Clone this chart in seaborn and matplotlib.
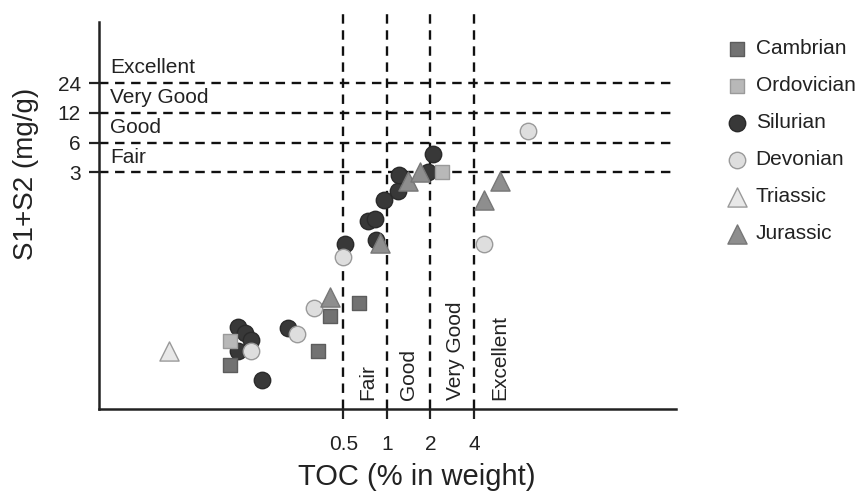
import numpy as np
import pandas as pd
import matplotlib
matplotlib.use("Agg")
import matplotlib.pyplot as plt
import seaborn as sns

# ---- data (TOC %, S1+S2 mg/g) ----
cambrian_toc = [0.082, 0.333, 0.405, 0.646]
cambrian_s = [0.034, 0.047, 0.107, 0.143]
ordovician_toc = [0.082, 2.4]
ordovician_s = [0.060, 3.0]
silurian_toc = [0.094, 0.104, 0.115, 0.094, 0.137, 0.206, 0.514, 0.84, 0.745, 0.83, 0.958, 1.2, 1.22, 1.91, 2.08]
silurian_s = [0.083, 0.071, 0.061, 0.0475, 0.024, 0.081, 0.565, 0.62, 0.97, 1.02, 1.58, 1.97, 2.83, 3.05, 4.6]
devonian_toc = [0.115, 0.238, 0.314, 0.5, 4.72, 9.4]
devonian_s = [0.0475, 0.070, 0.127, 0.42, 0.565, 7.9]
triassic_toc = [0.031]
triassic_s = [0.0475]
jurassic_toc = [0.405, 0.9, 1.39, 1.7, 4.66, 6.1]
jurassic_s = [0.167, 0.58, 2.48, 3.0, 1.58, 2.48]

toc_limits = [0.5, 1, 2, 4]
toc_labels = ["0.5", "1", "2", "4"]
toc_classes = ["Fair", "Good", "Very Good", "Excellent"]
s_limits = [3, 6, 12, 24]
s_labels = ["3", "6", "12", "24"]
s_classes = ["Fair", "Good", "Very Good", "Excellent"]

legend_order = ["Cambrian", "Ordovician", "Silurian", "Devonian", "Triassic", "Jurassic"]

sns.set_style("ticks")
plt.rcParams["font.family"] = ["Liberation Sans", "DejaVu Sans"]
txt = "#222222"

fig = plt.figure(figsize=(8.59, 4.94), dpi=100)
ax = fig.add_axes([99/859, 1-409/494, (676-99)/859, (409-8)/494])
ax.set_xscale("log")
ax.set_yscale("log")
ax.set_xlim(0.0102, 100)
ax.set_ylim(0.0122, 138)

groups = {
    "Silurian": (silurian_toc, silurian_s, "o", 140, "#383838", "#2a2a2a"),
    "Cambrian": (cambrian_toc, cambrian_s, "s", 110, "#727272", "#5c5c5c"),
    "Ordovician": (ordovician_toc, ordovician_s, "s", 110, "#b8b8b8", "#9a9a9a"),
    "Devonian": (devonian_toc, devonian_s, "o", 140, "#dedede", "#9a9a9a"),
    "Triassic": (triassic_toc, triassic_s, "^", 190, "#e8e8e8", "#9a9a9a"),
    "Jurassic": (jurassic_toc, jurassic_s, "^", 190, "#8e8e8e", "#777777"),
}
for name, (xv, yv, mk, sz, fc, ec) in groups.items():
    df = pd.DataFrame({"TOC": xv, "S": yv})
    sns.scatterplot(data=df, x="TOC", y="S", marker=mk, s=sz, color=fc,
                    edgecolor=ec, linewidth=1.0, ax=ax, zorder=3, label=name, legend=False)
h, l = ax.get_legend_handles_labels()
hd = dict(zip(l, h))

dash = (0, (4.0, 2.8))
for v in toc_limits:
    ax.axvline(v, color="#111111", lw=1.7, ls=dash, zorder=1)
for v in s_limits:
    ax.axhline(v, color="#111111", lw=1.7, ls=dash, zorder=1)

# zone labels
for v, t in zip(s_limits, s_classes):
    ax.text(0.0122, v * 1.26, t, fontsize=15, color=txt, ha="left", va="baseline")
vx = [0.742, 1.40, 2.97, 6.07]
for x, t in zip(vx, toc_classes):
    ax.text(x, 0.0151, t, fontsize=15, color=txt, rotation=90, ha="center", va="bottom")

ax.set_xticks(toc_limits)
ax.set_xticklabels(toc_labels)
ax.set_yticks(s_limits)
ax.set_yticklabels(s_labels)
ax.minorticks_off()
ax.tick_params(axis="both", direction="out", length=7, width=1.6, color="#222222",
               labelsize=15, labelcolor=txt)
ax.tick_params(axis="x", pad=12)
ax.tick_params(axis="y", pad=6)

for sp in ["top", "right"]:
    ax.spines[sp].set_visible(False)
for sp in ["left", "bottom"]:
    ax.spines[sp].set_linewidth(1.8)
    ax.spines[sp].set_color("#222222")
ax.spines["left"].set_bounds(0.0122, 100)

ax.set_xlabel("TOC (% in weight)", fontsize=21, color=txt)
ax.set_ylabel("S1+S2 (mg/g)", fontsize=20, color=txt)
ax.xaxis.set_label_coords(0.551, -0.135)
ax.yaxis.set_label_coords(-0.104, 0.586)

fig.legend([hd[n] for n in legend_order], legend_order, loc="upper left",
           bbox_to_anchor=(716/859, 1-29/494), frameon=False, fontsize=15,
           labelspacing=0.86, handlelength=1.0, handletextpad=0.4, borderpad=0,
           scatterpoints=1, labelcolor=txt)

fig.savefig("out.png", dpi=100)
